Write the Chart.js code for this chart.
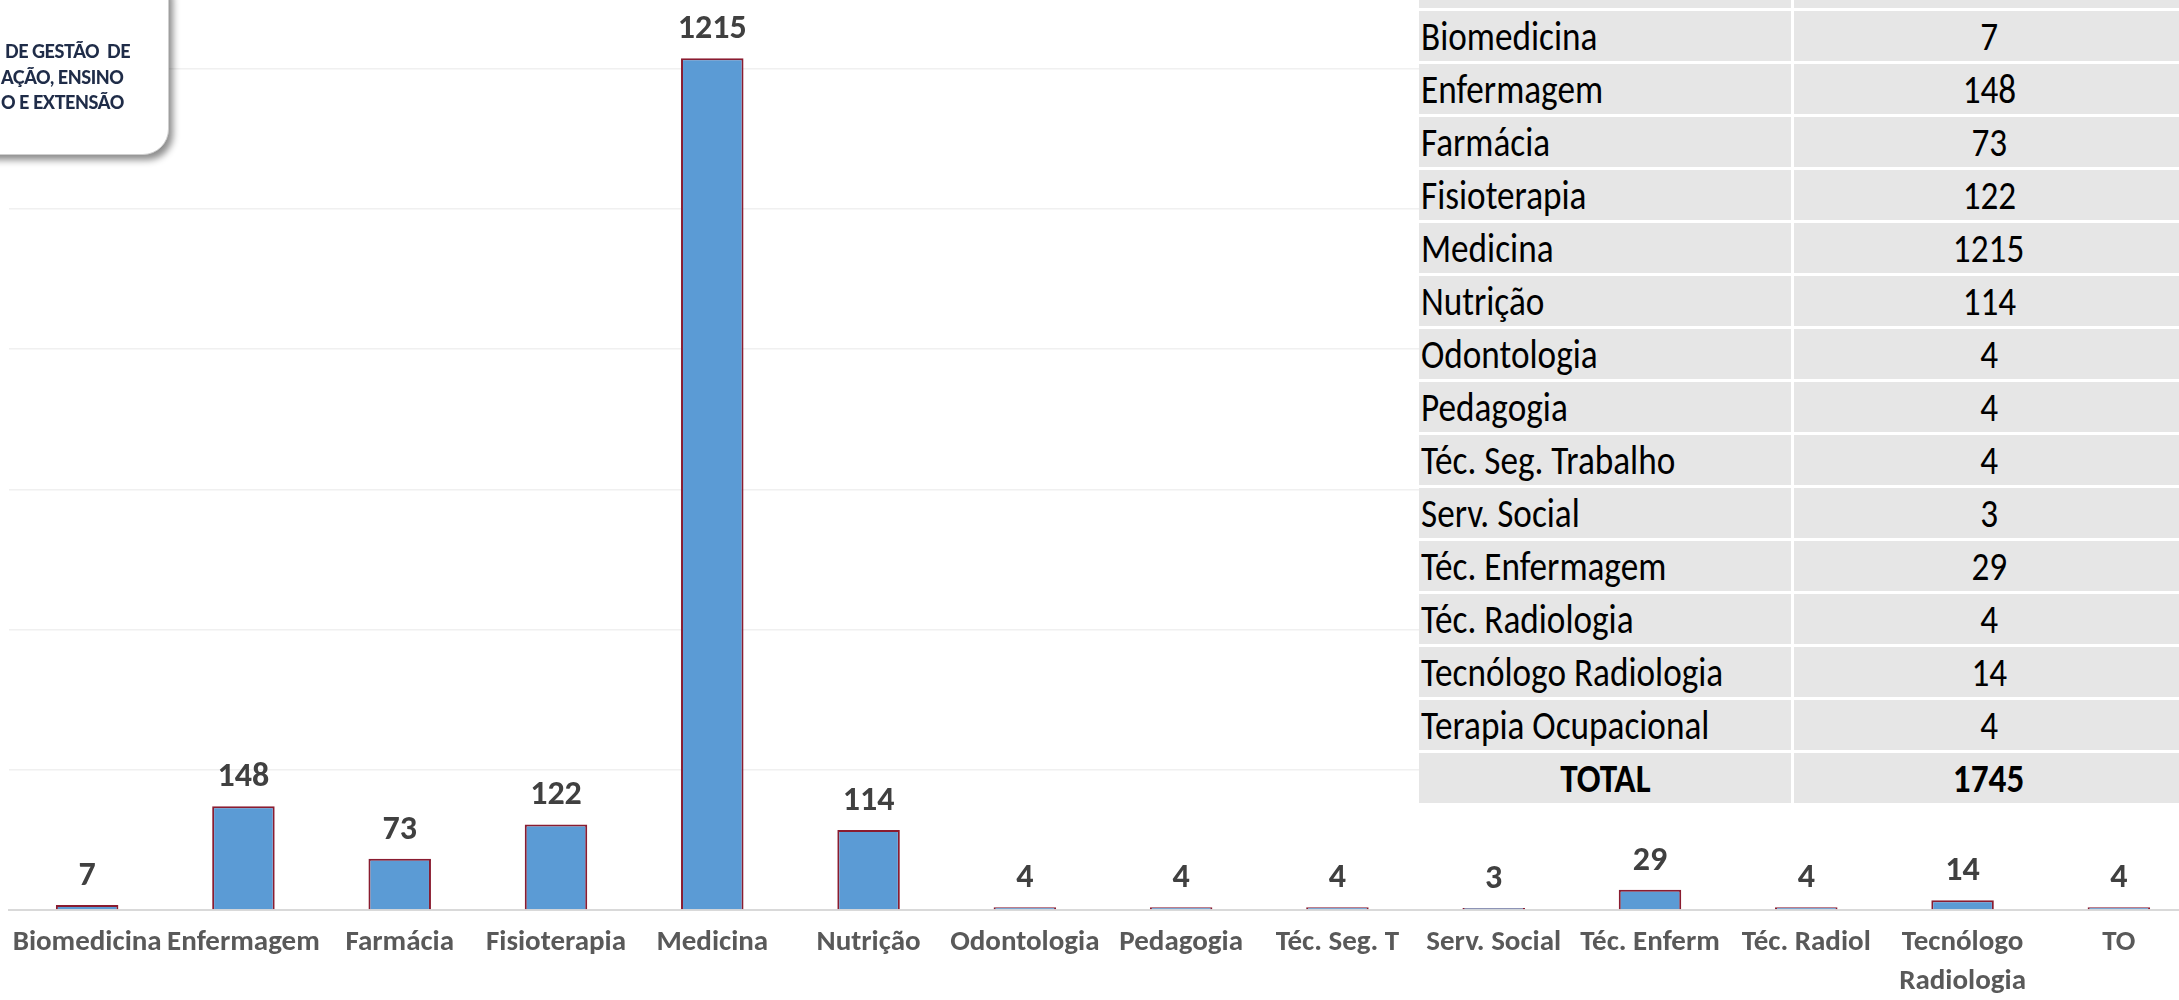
<!DOCTYPE html>
<html>
<head>
<meta charset="utf-8">
<script src="https://cdn.jsdelivr.net/npm/chart.js@4/dist/chart.umd.min.js"></script>
<style>
body { margin:0; width:2179px; height:1000px; overflow:hidden; background:#fff; position:relative; font-family: Carlito, Lato, sans-serif; }
#wrap { position:absolute; left:0; top:0; width:2200px; height:1000px; }
#logo { position:absolute; left:-200px; top:-30px; width:367px; height:183px; background:#fff; border:1px solid #cfcfcf; border-radius:26px; box-shadow:4px 5px 7px rgba(0,0,0,0.45); }
#logoText { position:absolute; left:1px; top:39px; font: 900 18px Lato, sans-serif; line-height:25.5px; color:#1f2c48; white-space:pre; letter-spacing:-0.4px; }
#table { position:absolute; left:1419px; top:-42px; display:grid; grid-template-columns:372px 390px; grid-auto-rows:50px; gap:3px; background:#fff; }
#table div { background:#e6e6e6; font-size:40px; color:#000; display:flex; align-items:center; overflow:hidden; }
#table span { display:inline-block; transform:scaleX(0.88); white-space:nowrap; }
#table .name { padding-left:2px; }
#table .name span { transform-origin:left center; }
#table .num, #table .total { justify-content:center; }
#table .total { font-weight:bold; }
</style>
</head>
<body>
<div id="wrap"><canvas id="chart" width="2200" height="1000"></canvas></div>
<div id="logo"></div>
<div id="logoText"> DE GESTÃO  DE
AÇÃO, ENSINO
O E EXTENSÃO</div>
<div id="table"></div>
<script>
// axis labels (short form used under the bars)
const categories = [
    "Biomedicina", "Enfermagem", "Farmácia", "Fisioterapia", "Medicina",
    "Nutrição", "Odontologia", "Pedagogia", "Téc. Seg. T", "Serv. Social",
    "Téc. Enferm", "Téc. Radiol", ["Tecnólogo", "Radiologia"], "TO"
];

// names in the table
const courseNames = [
    "Biomedicina", "Enfermagem", "Farmácia", "Fisioterapia", "Medicina",
    "Nutrição", "Odontologia", "Pedagogia", "Téc. Seg. Trabalho", "Serv. Social",
    "Téc. Enfermagem", "Téc. Radiologia", "Tecnólogo Radiologia", "Terapia Ocupacional"
];

const values = [7, 148, 73, 122, 1215, 114, 4, 4, 4, 3, 29, 4, 14, 4];

const totalLabel = "TOTAL";
const totalValue = 1745;

const gridTicks = [0, 200, 400, 600, 800, 1000, 1200];

// table on the right
const table = document.getElementById("table");

function cell(text, cls){
    const d = document.createElement("div");
    d.className = cls;
    const s = document.createElement("span");
    s.textContent = text;
    d.appendChild(s);
    table.appendChild(d);
}

cell("", "name");
cell("", "num");

courseNames.forEach(
    (n, i) => {
        cell(n, "name");
        cell(String(values[i]), "num");
    }
);

cell(totalLabel, "total");
cell(String(totalValue), "total");

// value labels above bars
const barLabels = {
    id: "barLabels",
    afterDatasetsDraw(chart){
        const ctx = chart.ctx;
        const meta = chart.getDatasetMeta(0);
        ctx.save();
        ctx.font = "900 34px Carlito, Lato, sans-serif";
        ctx.fillStyle = "#404040";
        ctx.textAlign = "center";
        ctx.textBaseline = "alphabetic";
        meta.data.forEach(
            (bar, i) => {
                ctx.fillText(
                    String(values[i]),
                    bar.x,
                    bar.y - 20
                );
            }
        );
        ctx.restore();
    }
};

const chart = new Chart(
    document.getElementById("chart"),
    {
        type: "bar",
        data: {
            labels: categories,
            datasets: [{
                data: values,
                backgroundColor: "#5b9bd5",
                borderColor: "#8a1c30",
                borderWidth: 2,
                categoryPercentage: 1,
                barPercentage: 0.4
            }]
        },
        options: {
            responsive: false,
            devicePixelRatio: 1,
            animation: false,
            layout: {
                padding: { left: 9, right: 3, top: 0, bottom: 0 }
            },
            plugins: {
                legend: { display: false },
                tooltip: { enabled: false }
            },
            scales: {
                x: {
                    grid: { display: false },
                    border: { color: "#d9d9d9", width: 2 },
                    ticks: {
                        autoSkip: false,
                        maxRotation: 0,
                        padding: 5,
                        color: "#595959",
                        font: { family: "Carlito, Lato, sans-serif", size: 29, weight: "bold", lineHeight: 1.36 }
                    },
                    afterFit: s => { s.height = 90; }
                },
                y: {
                    min: 0,
                    max: 1298,
                    afterBuildTicks: s => {
                        s.ticks = gridTicks.map(v => ({ value: v }));
                    },
                    grid: { color: "#f0f0f0", lineWidth: 1.5, drawTicks: false },
                    border: { display: false },
                    ticks: { display: false },
                    afterFit: s => { s.width = 0; }
                }
            }
        },
        plugins: [barLabels]
    }
);
</script>
</body>
</html>
